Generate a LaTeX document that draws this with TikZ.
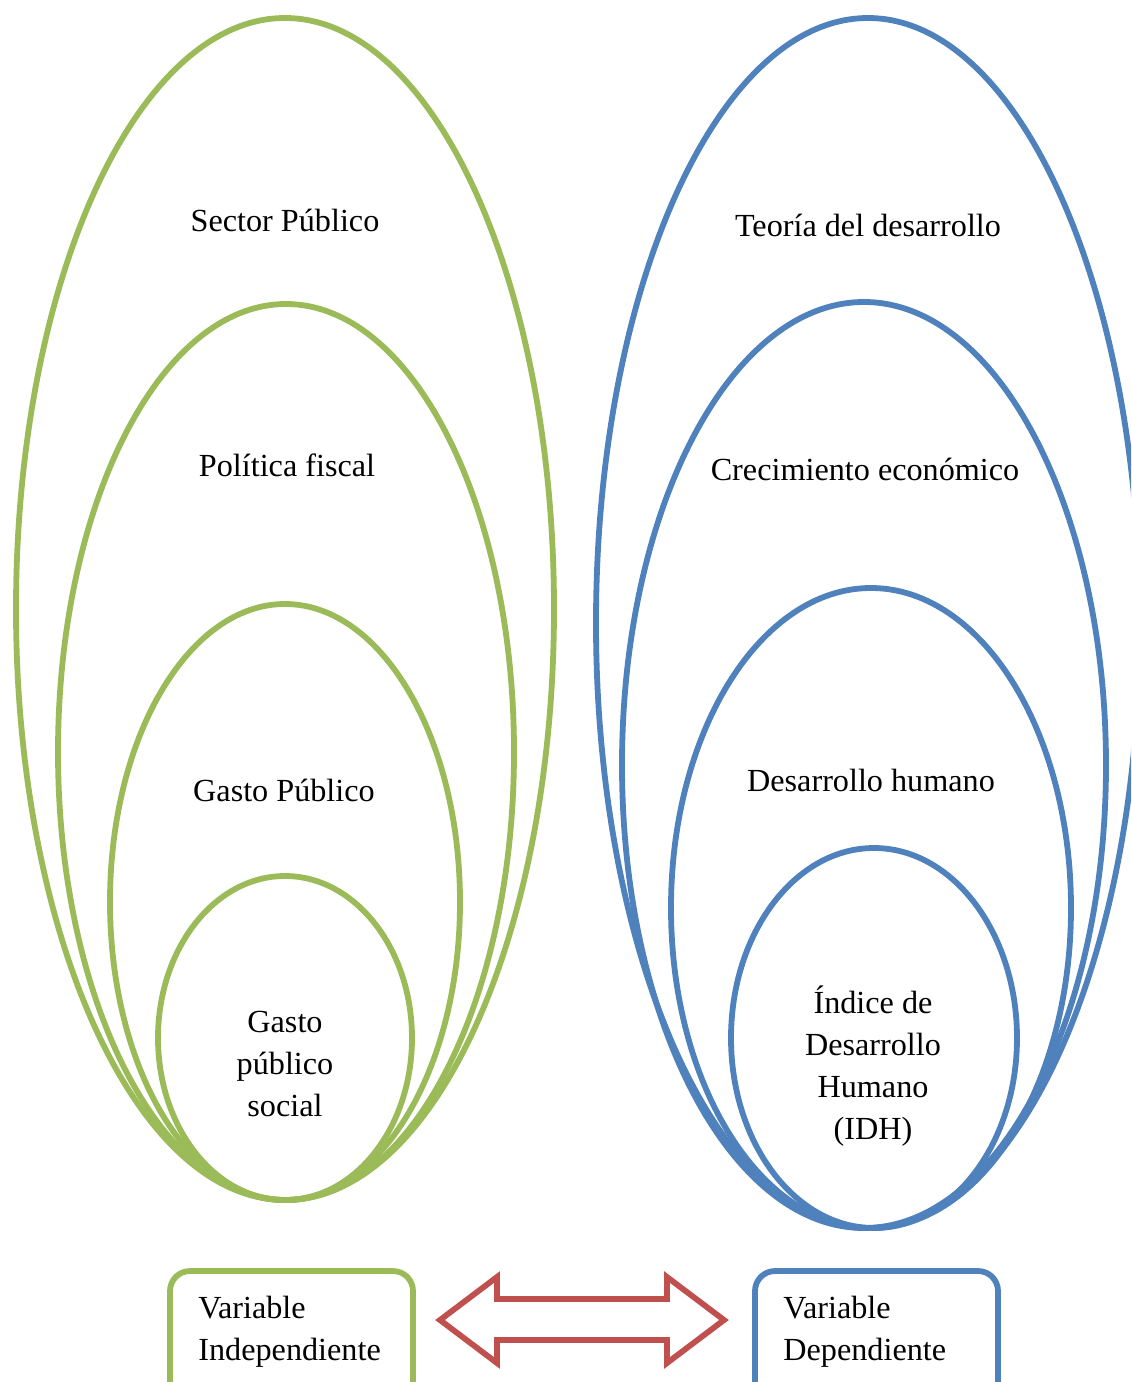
\documentclass[tikz,border=0pt]{standalone}
\usepackage{fontspec}
\setmainfont{Liberation Serif}
\usepackage{tikz}
\usetikzlibrary{positioning}

\definecolor{vgreen}{RGB}{155,187,89}
\definecolor{vblue}{RGB}{79,129,189}
\definecolor{vred}{RGB}{192,80,77}

\tikzset{
  ring/.style={line width=2.9pt},
  lbl/.style={font=\fontsize{16.1pt}{21pt}\selectfont, align=center, inner sep=0pt},
  varbox/.style={line width=2.9pt, rounded corners=10pt, minimum width=121.5pt, minimum height=66pt, inner sep=0pt},
}

\begin{document}
\begin{tikzpicture}[x=0.5pt,y=-0.5pt]
\useasboundingbox (0,0) rectangle (1131,1382);
\clip (0,0) rectangle (1131,1382);
% independent side
\draw[ring, vgreen] (285,609) ellipse [x radius=269, y radius=591];
\draw[ring, vgreen] (286,752) ellipse [x radius=228, y radius=448];
\draw[ring, vgreen] (285,902) ellipse [x radius=175, y radius=298];
\draw[ring, vgreen] (285,1038) ellipse [x radius=127, y radius=162];
\path
(285,220) node[lbl] (sector) {Sector Público};
\path
(287,465) node[lbl] (fiscal) {Política fiscal};
\path
(284,790) node[lbl] (gasto) {Gasto Público};
\path
(285,1064) node[lbl] (social) {Gasto\\público\\social};
% dependent side
\draw[ring, vblue] (868,623) ellipse [x radius=272, y radius=605];
\draw[ring, vblue] (864,765) ellipse [x radius=242, y radius=463];
\draw[ring, vblue] (871,908) ellipse [x radius=200, y radius=320];
\draw[ring, vblue] (874,1038) ellipse [x radius=143, y radius=190];
\path
(868,225) node[lbl] (teoria) {Teoría del desarrollo};
\path
(865,469) node[lbl] (crec) {Crecimiento económico};
\path
(871,780) node[lbl] (humano) {Desarrollo humano};
\path
(873,1066) node[lbl] (idh) {Índice de\\Desarrollo\\Humano\\(IDH)};
% variables
\node[varbox, draw=vgreen] (indepbox) at (291.5,1337) {};
\node[varbox, draw=vblue] (depbox) at (876.5,1337) {};
\node[lbl, align=left, anchor=west] (indep) at (198,1332) {Variable\\Independiente};
\node[lbl, align=left, anchor=west] (dep) at (783,1332) {Variable\\Dependiente};
\draw[line width=2.9pt, vred, line join=miter]
(440,1320) -- (497,1277) -- (497,1299) -- (667,1299) -- (667,1277) -- (724,1320)
-- (667,1363) -- (667,1340) -- (497,1340) -- (497,1363) -- cycle;
\end{tikzpicture}
\end{document}
